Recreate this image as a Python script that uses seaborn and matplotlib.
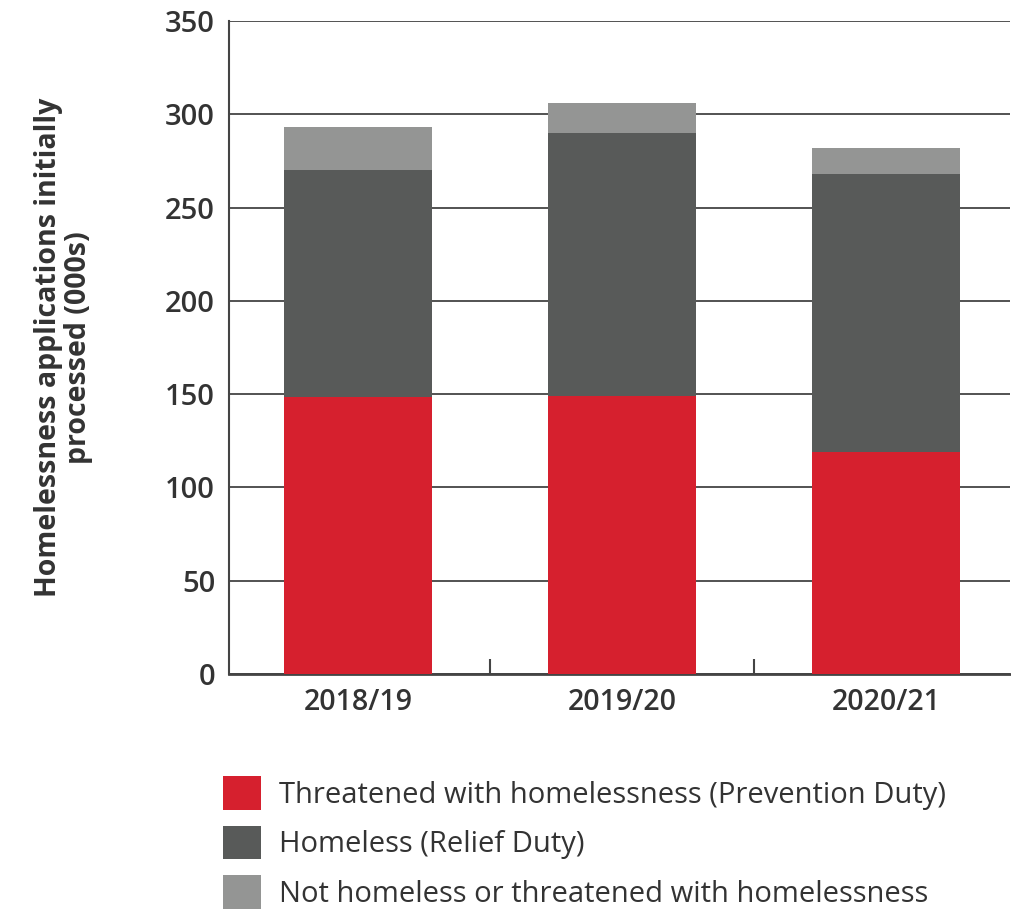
import pandas as pd
import numpy as np
import matplotlib
matplotlib.use("Agg")
import matplotlib.pyplot as plt
from matplotlib.patches import Patch
import seaborn as sns

# values (thousands)
years = ["2018/19", "2019/20", "2020/21"]
prevention = [148.5, 149, 119]
relief = [121.5, 141, 149]
not_homeless = [23, 16, 14]

labels = ["Threatened with homelessness (Prevention Duty)",
          "Homeless (Relief Duty)",
          "Not homeless or threatened with homelessness"]
colours = ["#D6202E", "#585A59", "#949594"]
text_col = "#333333"

df = pd.DataFrame({"year": years, "prevention": prevention,
                   "relief": relief, "not_homeless": not_homeless})
df["lvl2"] = df.prevention + df.relief
df["lvl3"] = df.lvl2 + df.not_homeless

sns.set_style("white")
plt.rcParams["font.family"] = ["Open Sans", "DejaVu Sans"]

fig = plt.figure(figsize=(10.11, 9.10), dpi=100)
ax = fig.add_axes([0.2265, 0.2593, 0.7725, 0.7177])

# stack by drawing cumulative totals back to front
for col, c in zip(["lvl3", "lvl2", "prevention"], colours[::-1]):
    sns.barplot(data=df, x="year", y=col, color=c, width=0.56,
                saturation=1, linewidth=0, ax=ax, zorder=3)

ax.set_ylim(0, 350)
ax.set_xlim(-0.49, 2.47)
ax.set_yticks(np.arange(0, 351, 50))
ax.yaxis.grid(True, color="#444444", linewidth=1.3, zorder=0)
ax.set_axisbelow(True)

ax.set_xlabel("")
ax.set_ylabel("Homelessness applications initially\nprocessed (000s)",
              fontsize=20.5, fontweight="bold", color=text_col, labelpad=52,
              linespacing=1.05)

for s in ["top", "right"]:
    ax.spines[s].set_visible(False)
ax.spines["left"].set_color("#444444")
ax.spines["left"].set_linewidth(1.5)
ax.spines["bottom"].set_color("#444444")
ax.spines["bottom"].set_linewidth(2)

ax.tick_params(axis="y", length=0, pad=10, labelsize=21, labelcolor=text_col)
ax.tick_params(axis="x", which="major", length=0, pad=10, labelsize=20.5,
               labelcolor=text_col)
ax.set_xticks([0.5, 1.5], minor=True)
ax.tick_params(axis="x", which="minor", bottom=True, direction="in",
               length=11, width=1.5, color="#444444")
for t in ax.get_yticklabels() + ax.get_xticklabels():
    t.set_fontweight("semibold")

handles = [Patch(facecolor=c, edgecolor="none") for c in colours]
fig.legend(handles, labels, loc="upper left",
           bbox_to_anchor=(223 / 1011, 1 - 776 / 910), frameon=False,
           borderpad=0, borderaxespad=0, fontsize=21,
           handlelength=1.3, handleheight=1.4, handletextpad=0.62,
           labelspacing=0.55, labelcolor=text_col)

fig.savefig("out.png", dpi=100)
